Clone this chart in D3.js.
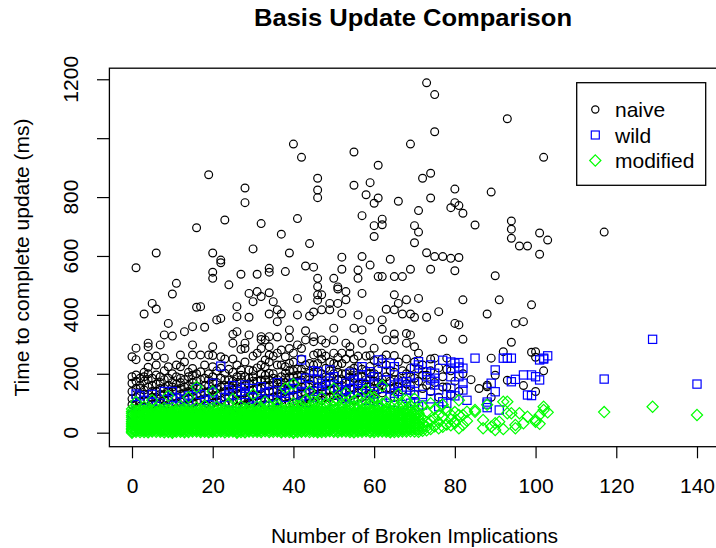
<!DOCTYPE html>
<html>
<head>
<meta charset="utf-8">
<script src="https://cdn.jsdelivr.net/npm/d3@7"></script>
<style>
  html, body { margin: 0; padding: 0; background: #fff; }
  text { font-family: "Liberation Sans", Arial, sans-serif; fill: #000; }
</style>
</head>
<body>
<script>
// ---- Data (grouped by x = number of broken implications: [x, [times in ms]]) ----
const naive = [
 [0,[258,168,140,95,60,115,190]],[1,[560,287,248,196,120,80,150,105,175]],[2,[150,105,65,185,130,90,160]],
 [3,[403,190,130,85,175,110,145,205]],[4,[304,292,258,222,110,155,70,200,130,180]],[5,[439,140,95,185,120,160,75]],
 [6,[610,420,260,196,120,75,165,230,140,100]],[7,[298,190,100,150,60,130,170,115]],[8,[332,253,130,180,90,210,150,110]],
 [9,[371,224,110,160,70,140,185,95]],[10,[471,328,140,95,200,170,120,155]],[11,[507,190,120,165,80,230,145,100]],
 [12,[264,224,105,150,60,185,130,170]],[13,[343,135,180,90,240,155,115]],[14,[190,115,160,75,140,205,95]],
 [15,[360,298,264,218,140,100,195,170,120,155]],[16,[696,426,157,125,85,200,175,105]],[17,[428,264,207,110,150,65,180,130]],
 [18,[358,135,185,95,230,160,115]],[19,[876,264,115,160,75,200,140,180]],[20,[610,545,524,292,262,224,145,100,190,170,125]],
 [21,[383,125,170,85,210,150,105]],[22,[586,577,388,258,219,110,155,65,185,135]],[23,[722,202,140,180,95,250,160,120]],
 [24,[502,179,120,160,75,215,140,100]],[25,[334,304,145,100,205,175,250,125,160]],[26,[428,394,343,190,130,170,85,230,150,110]],
 [27,[538,283,213,110,155,60,180,135,195]],[28,[831,781,304,286,135,190,95,240,160,115]],[29,[473,392,332,213,120,165,75,185,145,100]],
 [30,[624,445,145,100,210,175,260,125,190]],[31,[538,479,125,175,85,220,270,150,105]],[32,[710,462,326,316,286,179,110,150,230,200,130]],
 [33,[315,247,224,179,135,195,95,160,115]],[34,[558,545,475,403,326,292,264,202,115,160,240,180,140]],
 [35,[445,140,100,200,170,260,120,185]],[36,[417,377,325,168,125,180,85,230,270,145,105]],[37,[674,403,281,110,155,230,190,135,170]],
 [38,[547,258,224,202,140,185,95,170,120]],[39,[610,349,322,286,236,120,165,210,190,145,100]],[40,[980,190,145,100,240,170,270,125,210]],
 [41,[727,456,400,298,125,175,85,215,150,195]],[42,[935,286,179,110,155,215,250,135,195]],[43,[566,346,315,135,190,95,230,160,115]],
 [44,[642,396,202,120,165,235,180,140,100]],[45,[562,410,326,309,264,145,100,200,230,175,125]],
 [46,[864,824,798,524,496,468,450,270,125,180,235,155,205]],[47,[468,417,315,270,110,155,250,200,135,180]],
 [48,[304,219,140,190,95,260,165,120]],[49,[439,417,120,165,240,190,145,210]],[50,[524,355,315,270,145,105,200,235,170,125]],
 [51,[495,488,439,230,130,180,255,155,205]],[52,[596,555,405,270,115,160,235,200,140,180]],[53,[479,451,304,140,200,250,170,120]],
 [54,[292,270,125,170,210,150,190]],[55,[953,840,355,219,150,110,185,250,130,205]],[56,[552,524,400,260,135,190,225,160]],
 [57,[737,598,473,349,304,120,165,215,145,190]],[58,[808,145,210,180,260,125,165]],[59,[849,569,383,262,130,180,225,155,200]],
 [60,[779,703,666,287,150,115,200,245,175]],[61,[908,797,530,170,215,145,190]],[62,[725,706,530,383,351,135,180,250,160]],
 [63,[419,315,264,190,230,150]],[64,[589,150,210,175]],[65,[530,468,417,335,315,262,120,180,150,205]],
 [66,[786,439,180,240,155]],[67,[530,403,145,210,175]],[68,[451,337,304,200,250,165]],[69,[980,555,403,332,160,220,190]],
 [70,[703,645,392,292,130,240,185]],[71,[754,681,456,270,175,215]],[72,[864,150,230,195]],[73,[1188,611,392,195,160]],
 [74,[881,797,555,140,250,210]],[75,[1148,1022,598,253,170]],[76,[411,120,220]],[77,[598,317,190,155]],
 [78,[253,155,215]],[79,[764,592,130,210]],[80,[827,781,550,371,175]],[81,[771,595,366,140]],
 [82,[745,451,317,200]],[84,[180]],[85,[705]],[86,[150]],[88,[403,161,156]],[89,[817,253,120]],
 [90,[533,195]],[91,[451]],[92,[275]],[93,[1066,178]],[94,[719,691,660,307]],[95,[371]],[96,[634]],
 [97,[377,160]],[98,[634]],[99,[434,273]],[100,[275,256,140]],[101,[678,606]],[102,[935,210]],
 [103,[654]],[117,[681]]
];
const wild = [
 [0,[60,35]],[1,[131,95]],[2,[40,125]],[3,[110,70]],[4,[75,45]],[5,[130,105]],[6,[55,90]],[7,[100,30]],
 [8,[30,140]],[9,[85,60]],[10,[120,140,50]],[11,[65,118]],[12,[105,40]],[13,[114,45]],[14,[125,100]],
 [15,[80,55]],[16,[150,40]],[17,[60,130]],[18,[110,75]],[19,[35,95]],[20,[168,135,112]],[21,[90,50]],
 [22,[226,55]],[23,[120,80]],[24,[145,75,128]],[25,[160,60]],[26,[100,40]],[27,[45,140]],[28,[162,151,130]],
 [29,[85,60]],[30,[150,118]],[31,[65,105]],[32,[156,115]],[33,[40,135]],[34,[140,90]],[35,[95,60]],
 [36,[170,110]],[37,[134,70]],[38,[134,120]],[39,[50,145]],[40,[168,150]],[41,[100,70]],[42,[247,168,135,125]],
 [43,[185,75]],[44,[160,100]],[45,[210,120,140]],[46,[181,207,60]],[47,[168,145]],[48,[100,160]],
 [49,[213,175]],[50,[190,80]],[51,[156,130,145]],[52,[55,100]],[53,[168,145,115]],[54,[202,150,120]],
 [55,[179,90]],[56,[168,140]],[57,[224,196,70,150]],[58,[160,110]],[59,[207,110]],[60,[190,168,130,105]],
 [61,[247,85]],[62,[236,150]],[63,[207,179,100]],[64,[236,120]],[65,[224,162,134,75]],[66,[168,140]],
 [67,[190,95]],[68,[173,117,155]],[69,[190,145,100]],[70,[219,168,128,105]],[71,[241,230,88]],
 [72,[94,130]],[73,[207,190]],[74,[179,115,230]],[75,[202,185,162]],[76,[88,145]],[77,[105,246]],
 [78,[100]],[79,[240,219,190,151,128]],[80,[236,125]],[81,[238,223,190]],[82,[219,168,145]],[83,[110]],
 [85,[253]],[88,[97,85,104]],[89,[168]],[90,[213,139]],[91,[77]],[92,[253]],[93,[253]],[94,[253,173]],
 [95,[181]],[97,[196]],[98,[128]],[99,[196,126]],[100,[190]],[101,[247,179]],[102,[253,250]],[103,[261]],
 [117,[182]],[129,[317]],[140,[165]]
];
const modified = [
 [0,[5,14,26,38,52,66,80,0,10,20,32,45,58,72]],[1,[3,18,30,45,60,74,104,8,24,38,52,66]],
 [2,[8,20,34,48,62,78,2,14,27,41,55,70]],[3,[2,12,25,40,55,70,88,7,19,33,47,62,76]],
 [4,[6,17,31,44,58,72,1,11,24,37,51,65,80]],[5,[4,15,28,42,56,68,110,9,21,35,49,62,75]],
 [6,[9,21,36,50,64,82,3,15,28,43,57,71]],[7,[3,13,27,39,53,67,79,8,20,33,46,60,73]],
 [8,[7,19,33,46,61,75,1,12,26,40,54,68,84]],[9,[2,16,29,43,57,71,125,6,22,36,50,64,78]],
 [10,[5,14,24,37,51,65,84,0,10,19,31,44,58,72]],[11,[8,22,35,49,63,77,3,15,28,42,56,70]],
 [12,[3,12,27,41,54,69,90,8,20,34,47,61,76]],[13,[6,18,31,45,59,73,1,12,25,38,52,66,82]],
 [14,[2,15,28,40,56,70,120,7,21,34,48,63,77]],[15,[9,20,34,47,61,76,4,14,27,41,54,68]],
 [16,[4,13,26,39,52,66,155,85,9,19,32,45,59,73]],[17,[7,17,30,44,58,72,2,11,24,37,51,65,80]],
 [18,[3,14,25,42,55,68,92,8,20,34,48,62,76]],[19,[6,19,33,46,60,78,1,12,26,39,53,67]],
 [20,[2,11,27,38,53,67,140,6,18,32,45,59,73,84]],[21,[8,16,29,43,57,74,88,3,22,36,50,64]],
 [22,[4,15,31,45,59,70,9,21,38,52,65,79]],[23,[7,20,35,48,62,80,1,13,27,41,55,69]],
 [24,[3,12,26,40,54,66,98,8,19,33,47,60,74]],[25,[9,18,30,44,58,73,115,4,14,24,37,51,65]],
 [26,[5,14,28,41,56,69,0,10,21,35,49,63,78]],[27,[2,17,33,47,61,77,90,7,25,40,54,68]],
 [28,[6,13,25,39,52,65,82,1,19,32,46,59,73]],[29,[4,19,32,46,60,74,9,12,26,39,53,67,83]],
 [30,[8,15,29,43,57,71,130,3,21,36,50,64,78]],[31,[3,12,26,38,53,68,88,8,19,32,45,60,74]],
 [32,[7,21,34,48,62,78,2,14,27,41,55,69,85]],[33,[5,16,30,45,59,72,105,10,23,38,52,66]],
 [34,[2,14,27,41,55,69,92,7,20,34,48,62,76]],[35,[9,18,33,47,61,80,3,12,25,40,54,68]],
 [36,[4,13,25,40,54,66,98,9,19,32,47,60,74,88]],[37,[6,20,31,44,58,73,1,13,26,38,51,65,80]],
 [38,[3,15,28,43,57,70,150,8,21,35,50,63,77]],[39,[8,17,35,49,63,85,2,12,26,42,56,70]],
 [40,[5,12,26,39,53,67,165,100,0,19,33,46,60,74,88]],[41,[2,19,32,46,60,76,7,13,25,39,53,68,92]],
 [42,[7,14,29,42,56,71,95,3,21,36,49,63,80]],[43,[4,16,34,48,62,80,110,9,24,40,55,70]],
 [44,[9,21,30,45,59,74,140,2,14,37,52,66,85]],[45,[3,13,27,41,55,69,90,8,20,34,48,62,78,105]],
 [46,[6,18,33,47,61,78,105,1,11,25,40,54,70,88]],[47,[2,15,28,44,58,72,120,7,21,36,51,65,84]],
 [48,[8,20,35,50,64,85,3,13,27,42,57,72,98]],[49,[5,12,26,40,54,68,98,10,19,33,47,62,80]],
 [50,[3,17,31,46,60,76,150,8,24,38,53,67,88,110]],[51,[7,14,29,43,57,71,110,2,21,36,50,64,82]],
 [52,[4,19,34,49,63,82,9,12,26,41,56,70,95]],[53,[9,16,27,42,56,70,135,4,21,35,49,63,80,102]],
 [54,[2,13,30,45,59,75,95,7,20,37,52,66,84]],[55,[6,21,33,48,62,88,1,14,27,41,55,70,108]],
 [56,[3,15,28,41,55,69,115,8,22,35,49,63,80,95]],[57,[8,18,35,50,64,80,3,12,27,42,57,72,100]],
 [58,[5,12,26,44,58,73,145,10,19,34,51,66,88]],[59,[2,17,31,47,61,78,100,7,24,39,54,70,120]],
 [60,[7,14,29,43,57,72,120,2,21,36,50,65,85,105]],[61,[4,20,36,51,66,90,9,13,28,43,58,75]],
 [62,[9,16,27,42,56,70,160,4,22,35,49,63,82,98]],[63,[3,13,32,48,63,82,105,8,20,40,55,72]],
 [64,[6,19,30,45,60,76,1,12,37,52,68,90]],[65,[2,15,35,50,66,95,8,24,42,58,78]],
 [66,[8,22,38,55,72,130,3,15,30,46,63,88]],[67,[4,14,30,46,62,85,10,22,38,55,72,100]],
 [68,[10,25,42,58,78,110,4,17,34,50,66]],[69,[5,18,34,52,70,92,12,26,44,60,80]],
 [70,[12,28,45,64,115,4,20,36,55,75]],[71,[3,20,38,56,80,11,28,47,66]],
 [72,[15,48,90,6,30]],[73,[8,35,70,20]],[74,[40,100,12]],[75,[22,80,50]],[76,[15,60,35]],[77,[55,95,20]],[78,[28,75]],
 [79,[25,45,62]],[80,[32,37,70]],[81,[60,110,15]],[82,[26,60]],[83,[71,40]],[85,[77,71]],[87,[43,15]],[88,[95]],
 [89,[20]],[90,[32,9]],[91,[37]],[92,[12,105]],[93,[105,66]],[94,[66]],[95,[26,15]],[96,[66]],[97,[32]],
 [98,[54]],[100,[43,37]],[101,[60,30]],[102,[88,77]],[103,[69]],[117,[70]],[129,[88]],[140,[60]]
];
const seriesNames = ["naive", "wild", "modified"];
const xTicks = [0, 20, 40, 60, 80, 100, 120, 140];
const yTicks = [0, 200, 400, 600, 800, 1000, 1200];
const yTickLabels = [0, 200, 400, 600, 800, 1200];

// ---- Drawing ----
const W = 716, H = 548;
const svg = d3.select("body").append("svg").attr("width", W).attr("height", H);
const x = d3.scaleLinear().domain([-5.6, 145.6]).range([109.4, 719.6]);
const y = d3.scaleLinear().domain([-47.6, 1237.6]).range([446.7, 68.2]);
const flat = s => s.flatMap(([xv, ys]) => ys.map(v => ({ x: xv, y: v })));

// title
svg.append("text").attr("x", 413).attr("y", 26).attr("text-anchor", "middle")
  .attr("font-size", 24).attr("font-weight", "bold")
  .attr("textLength", 318).attr("lengthAdjust", "spacingAndGlyphs")
  .text("Basis Update Comparison");

// points
const plot = svg.append("g");
plot.selectAll("circle.naive").data(flat(naive)).join("circle").attr("class", "naive")
  .attr("cx", d => x(d.x)).attr("cy", d => y(d.y)).attr("r", 3.9)
  .attr("fill", "none").attr("stroke", "#000").attr("stroke-width", 1.2);
const sq = 8.2;
plot.selectAll("rect.wild").data(flat(wild)).join("rect").attr("class", "wild")
  .attr("x", d => x(d.x) - sq / 2).attr("y", d => y(d.y) - sq / 2).attr("width", sq).attr("height", sq)
  .attr("fill", "none").attr("stroke", "#0000ff").attr("stroke-width", 1.2);
const dia = 5.6;
const diamondPath = `M0,${-dia}L${dia},0L0,${dia}L${-dia},0Z`;
plot.selectAll("path.mod").data(flat(modified)).join("path").attr("class", "mod")
  .attr("d", diamondPath).attr("transform", d => `translate(${x(d.x)},${y(d.y)})`)
  .attr("fill", "none").attr("stroke", "#00ff00").attr("stroke-width", 1.2);

// box
svg.append("rect").attr("x", 109.4).attr("y", 68.2).attr("width", 719.6 - 109.4).attr("height", 446.7 - 68.2)
  .attr("fill", "none").attr("stroke", "#000").attr("stroke-width", 1.3);

// x axis
const gx = svg.append("g").attr("transform", "translate(0,446.7)")
  .call(d3.axisBottom(x).tickValues(xTicks).tickSize(11.6).tickPadding(20).tickFormat(d3.format("d")));
gx.select(".domain").remove();
gx.selectAll("line").attr("stroke", "#000").attr("stroke-width", 1.2);
gx.selectAll("text").attr("font-size", 21).attr("font-family", "Liberation Sans, Arial, sans-serif").attr("fill", "#000");

// y axis ticks
const gy = svg.append("g").attr("transform", "translate(109.4,0)")
  .call(d3.axisLeft(y).tickValues(yTicks).tickSize(12.4).tickFormat(""));
gy.select(".domain").remove();
gy.selectAll("line").attr("stroke", "#000").attr("stroke-width", 1.2);
svg.append("g").selectAll("text").data(yTickLabels).join("text")
  .attr("transform", d => `translate(78,${y(d)}) rotate(-90)`)
  .attr("text-anchor", "middle").attr("font-size", 21).text(d => d);

// axis titles
svg.append("text").attr("x", 414.5).attr("y", 543).attr("text-anchor", "middle")
  .attr("font-size", 21).text("Number of Broken Implications");
svg.append("text").attr("transform", "translate(28.5,257.5) rotate(-90)")
  .attr("text-anchor", "middle").attr("font-size", 21).text("Time to complete update (ms)");

// legend
const lg = svg.append("g");
lg.append("rect").attr("x", 576.7).attr("y", 82.7).attr("width", 129).attr("height", 102.6)
  .attr("fill", "#fff").attr("stroke", "#000").attr("stroke-width", 1.3);
const rows = [109.5, 135, 160.5];
lg.append("circle").attr("cx", 595.3).attr("cy", rows[0]).attr("r", 3.6)
  .attr("fill", "none").attr("stroke", "#000").attr("stroke-width", 1.2);
lg.append("rect").attr("x", 595.3 - 4).attr("y", rows[1] - 4).attr("width", 8).attr("height", 8)
  .attr("fill", "none").attr("stroke", "#0000ff").attr("stroke-width", 1.2);
lg.append("path").attr("d", diamondPath).attr("transform", `translate(595.3,${rows[2]})`)
  .attr("fill", "none").attr("stroke", "#00ff00").attr("stroke-width", 1.2);
lg.selectAll("text.lab").data(seriesNames).join("text").attr("class", "lab")
  .attr("x", 615).attr("y", (d, i) => rows[i] + 7.5).attr("font-size", 21).text(d => d);
</script>
</body>
</html>
